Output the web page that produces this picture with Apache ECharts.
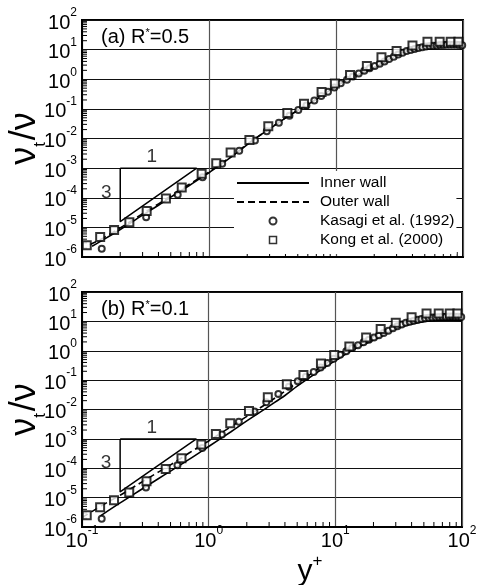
<!DOCTYPE html>
<html>
<head>
<meta charset="utf-8">
<script src="https://cdn.jsdelivr.net/npm/echarts@6/dist/echarts.min.js"></script>
<style>
  html, body { margin: 0; padding: 0; background: #fff; }
  #chart { width: 477px; height: 585px; }
</style>
</head>
<body>
<div id="chart"></div>
<script>
// Eddy viscosity profiles nu_t/nu versus y+ for two radius ratios (log-log)

// Axis ranges and decade tick exponents
const X_MIN = 0.1, X_MAX = 100;
const Y_MIN = 1e-6, Y_MAX = 1e2;
const xTickExponents = [-1, 0, 1, 2];
const yTickExponents = [-6, -5, -4, -3, -2, -1, 0, 1, 2];

// DNS of channel flow, Kasagi et al. (1992)
const kasagiYPlus = [0.143, 0.32, 0.567, 0.89, 1.27, 1.73, 2.3, 2.85, 3.55, 4.3, 5.05, 5.85,
  6.75, 7.65, 8.65, 9.7, 10.9, 12.2, 13.6, 15.1, 16.7, 18.4, 20.2, 22.1, 24.1, 26.2, 28.5,
  30.9, 33.4, 36.0, 38.7, 41.6, 44.6, 47.8, 51.1, 54.6, 58.2, 62.0, 66.0, 70.1, 74.4, 78.9,
  83.6, 88.4, 93.4, 98.6];
const kasagiNut = [1.9e-6, 2.2e-5, 1.27e-4, 4.9e-4, 1.4e-3, 3.85e-3, 8.6e-3, 1.75e-2, 3.4e-2,
  5.9e-2, 9.1e-2, 0.13, 0.19, 0.27, 0.38, 0.53, 0.73, 0.97, 1.23, 1.55, 1.95, 2.35, 2.8, 3.35,
  4.0, 4.8, 5.8, 6.8, 7.9, 8.9, 9.8, 10.6, 11.4, 12.1, 12.7, 13.2, 13.6, 13.9, 14.2, 14.4,
  14.5, 14.6, 14.6, 14.5, 14.3, 14.1];

// DNS of pipe flow, Kong et al. (2000)
const kongYPlus = [0.109, 0.139, 0.179, 0.236, 0.323, 0.458, 0.61, 0.875, 1.14, 1.48, 2.08,
  2.93, 4.14, 5.6, 7.7, 9.8, 12.9, 17.5, 22.8, 30.0, 40.0, 52.5, 65.5, 80.0, 92.0];
const kongNut = [2.5e-6, 4.7e-6, 8.1e-6, 1.5e-5, 3.6e-5, 9.4e-5, 2.2e-4, 6.4e-4, 1.46e-3,
  3.4e-3, 8.9e-3, 2.6e-2, 7.2e-2, 0.15, 0.37, 0.72, 1.4, 2.8, 5.5, 9.0, 13.8, 18.5, 18.5,
  18.5, 18.5];

// Model predictions, R* = 0.5
const aInnerYPlus = [0.12, 0.15, 0.2, 0.3, 0.4, 0.5, 0.7, 0.89, 1.0, 1.26, 1.5, 1.73, 2.0, 2.5,
  3.0, 3.5, 4.0, 5.0, 6.0, 7.0, 8.5, 10, 12, 15, 20, 25, 30, 40, 50, 60, 70, 85, 100];
const aInnerNut = [2.3e-6, 4.0e-6, 8.5e-6, 2.6e-5, 5.6e-5, 1.05e-4, 2.6e-4, 5.1e-4, 7.0e-4,
  1.4e-3, 2.4e-3, 3.8e-3, 6.2e-3, 1.25e-2, 2.1e-2, 3.3e-2, 4.9e-2, 8.8e-2, 0.14, 0.21, 0.37,
  0.58, 0.93, 1.45, 2.5, 4.2, 6.5, 10.2, 12.5, 13.8, 14.4, 14.6, 14.0];
const aOuterYPlus = [0.115, 0.15, 0.2, 0.3, 0.4, 0.5, 0.7, 1.0, 1.5, 2.0, 3.0, 4.0, 5.0, 7.0,
  10, 15, 20, 30, 40, 50, 70, 100];
const aOuterNut = [2.6e-6, 4.6e-6, 9.6e-6, 2.9e-5, 6.2e-5, 1.16e-4, 2.85e-4, 7.4e-4, 2.5e-3,
  6.4e-3, 2.15e-2, 5.0e-2, 9.0e-2, 0.215, 0.59, 1.45, 2.5, 6.5, 10.2, 12.5, 14.4, 14.0];

// Model predictions, R* = 0.1
const bInnerYPlus = [0.14, 0.2, 0.3, 0.4, 0.5, 0.7, 1.0, 1.5, 2.0, 2.6, 3.0, 4.0, 5.0, 7.0,
  10, 15, 20, 30, 40, 50, 60, 70, 85, 100];
const bInnerNut = [2.4e-6, 6.6e-6, 2.0e-5, 4.4e-5, 8.0e-5, 2.0e-4, 5.5e-4, 1.75e-3, 4.1e-3,
  8.6e-3, 1.3e-2, 3.0e-2, 6.2e-2, 0.17, 0.46, 1.3, 2.3, 5.6, 8.2, 9.8, 10.6, 11.0, 11.0, 10.5];
const bOuterYPlus = [0.1, 0.15, 0.2, 0.3, 0.4, 0.5, 0.7, 1.0, 1.5, 2.0, 3.0, 4.0, 5.0, 7.0,
  10, 15, 20, 30, 40, 50, 60, 70, 85, 100];
const bOuterNut = [2.1e-6, 6.0e-6, 1.2e-5, 3.5e-5, 7.4e-5, 1.3e-4, 3.3e-4, 8.5e-4, 2.6e-3,
  5.8e-3, 1.8e-2, 4.2e-2, 8.0e-2, 0.21, 0.6, 1.6, 3.0, 7.5, 11.0, 13.2, 14.3, 14.8, 14.8, 14.3];

// Slope-3 reference triangle and its side labels
const triangleYPlus = [0.2, 0.8, 0.2, 0.2];
const triangleNut = [1e-3, 1e-3, 1.5625e-5, 1e-3];
const slopeLabelText = ['1', '3'];
const slopeLabelYPlus = [0.355, 0.155];
const slopeLabelNut = [2.4e-3, 1.5e-4];

const panelTitles = ['(a) R{s|*}=0.5', '(b) R{s|*}=0.1'];
const legendNames = ['Inner wall', 'Outer wall', 'Kasagi et al. (1992)', 'Kong et al. (2000)'];

const FONT = 'Liberation Sans';
const zip = (xs, ys) => xs.map((x, i) => [x, ys[i]]);
const sup = { fontSize: 12, lineHeight: 12, verticalAlign: 'top', fontFamily: FONT, color: '#000' };
const base = { fontSize: 20, lineHeight: 26, verticalAlign: 'bottom', fontFamily: FONT, color: '#000' };

function powerLabel(v, exps) {
  const e = Math.round(Math.log10(v));
  return exps.indexOf(e) >= 0 ? '{b|10}{e|' + e + '}' : '';
}

// Minor tick positions (2..9 within each decade) drawn inside the frame
function minorTicks(lo, hi) {
  const out = [];
  for (let d = Math.round(Math.log10(lo)); d < Math.round(Math.log10(hi)); d++) {
    for (let k = 2; k <= 9; k++) out.push(k * Math.pow(10, d));
  }
  return out;
}
const tickItems = minorTicks(X_MIN, X_MAX).map(v => [v, Y_MIN, 0])
  .concat(minorTicks(Y_MIN, Y_MAX).map(v => [X_MIN, v, 1]));

function renderTick(params, api) {
  const p = api.coord([api.value(0), api.value(1)]);
  const horiz = api.value(2) === 1;
  return {
    type: 'line',
    shape: horiz ? { x1: p[0], y1: p[1], x2: p[0] + 5, y2: p[1] }
                 : { x1: p[0], y1: p[1], x2: p[0], y2: p[1] - 5 },
    style: { stroke: '#000', lineWidth: 1 }
  };
}

const grids = [
  { left: 82, top: 20, width: 381, height: 237 },
  { left: 82, top: 292, width: 380, height: 235 }
];

const xAxes = [], yAxes = [], series = [], titles = [];
grids.forEach((g, i) => {
  g.show = true;
  g.borderColor = '#000';
  g.borderWidth = 2;
  g.backgroundColor = '#fff';
  g.containLabel = false;
  g.outerBoundsMode = 'none';
  xAxes.push({
    type: 'log', logBase: 10, gridIndex: i, min: X_MIN, max: X_MAX,
    axisLine: { show: true, lineStyle: { color: '#000', width: 2 } },
    axisTick: { show: false },
    splitLine: { show: true, lineStyle: { color: '#555', width: 1.2 } },
    axisLabel: {
      show: i === 1, margin: -2,
      formatter: v => powerLabel(v, xTickExponents),
      rich: { b: base, e: sup }
    },
    name: i === 1 ? '{y|y}{p|+}' : '',
    nameLocation: 'middle', nameGap: 26, nameMoveOverlap: false,
    nameTextStyle: {
      padding: [0, 0, 0, 76],
      rich: {
        y: { fontSize: 30, lineHeight: 34, verticalAlign: 'bottom', fontFamily: FONT, color: '#000' },
        p: { fontSize: 17, lineHeight: 17, verticalAlign: 'top', fontFamily: FONT, color: '#000' }
      }
    }
  });
  yAxes.push({
    type: 'log', logBase: 10, gridIndex: i, min: Y_MIN, max: Y_MAX,
    axisLine: { show: true, lineStyle: { color: '#000', width: 2 } },
    axisTick: { show: false },
    splitLine: { show: true, lineStyle: { color: '#111', width: 1 } },
    axisLabel: {
      margin: 5,
      formatter: v => powerLabel(v, yTickExponents),
      rich: { b: base, e: sup }
    },
    name: '{n|ν}{t|t}{n|/ν}',
    nameLocation: 'middle', nameRotate: 90, nameGap: 35, nameMoveOverlap: false,
    nameTextStyle: {
      rich: {
        n: { fontSize: 36, lineHeight: 40, verticalAlign: 'top', fontFamily: FONT, color: '#000' },
        t: { fontSize: 17, lineHeight: 17, padding: [25, 2, 0, 0], verticalAlign: 'top', fontFamily: FONT, color: '#000' }
      }
    }
  });
  titles.push({
    text: panelTitles[i], left: 96, top: g.top + 2,
    textStyle: {
      fontSize: 20, fontWeight: 'normal', fontFamily: FONT, color: '#000',
      rich: { s: { fontSize: 11, verticalAlign: 'top', lineHeight: 11, fontFamily: FONT, color: '#000' } }
    }
  });

  const inner = i === 0 ? zip(aInnerYPlus, aInnerNut) : zip(bInnerYPlus, bInnerNut);
  const outer = i === 0 ? zip(aOuterYPlus, aOuterNut) : zip(bOuterYPlus, bOuterNut);
  const marker = { color: '#000', borderColor: '#000', borderWidth: 1.3 };

  series.push(
    { type: 'custom', name: 'ticks' + i, xAxisIndex: i, yAxisIndex: i, data: tickItems,
      renderItem: renderTick, silent: true, z: 3 },
    { type: 'line', name: 'slope' + i, xAxisIndex: i, yAxisIndex: i,
      data: zip(triangleYPlus, triangleNut), symbol: 'none', silent: true, color: '#000',
      lineStyle: { color: '#000', width: 1.5 }, z: 3 },
    { type: 'scatter', name: 'slopeText' + i, xAxisIndex: i, yAxisIndex: i,
      data: zip(slopeLabelYPlus, slopeLabelNut).map((p, k) => ({ value: p, text: slopeLabelText[k] })),
      symbolSize: 0, silent: true,
      label: { show: true, position: 'inside', formatter: p => p.data.text,
        fontSize: 19, fontFamily: FONT, color: '#000' } },
    { type: 'line', name: legendNames[0], xAxisIndex: i, yAxisIndex: i, data: inner,
      symbol: 'none', smooth: 0.35, color: '#000', itemStyle: { color: '#000', opacity: 0 },
      lineStyle: { color: '#000', width: 1.6 }, z: 4 },
    { type: 'line', name: legendNames[1], xAxisIndex: i, yAxisIndex: i, data: outer,
      symbol: 'none', smooth: 0.35, color: '#000', itemStyle: { color: '#000', opacity: 0 },
      lineStyle: { color: '#000', width: 1.6, type: [7, 4] }, z: 4 },
    { type: 'scatter', name: legendNames[2], xAxisIndex: i, yAxisIndex: i,
      data: zip(kasagiYPlus, kasagiNut), symbol: 'emptyCircle', symbolSize: 6,
      color: '#000', itemStyle: marker, z: 5 },
    { type: 'scatter', name: legendNames[3], xAxisIndex: i, yAxisIndex: i,
      data: zip(kongYPlus, kongNut), symbol: 'emptyRect', symbolSize: 8,
      color: '#000', itemStyle: marker, z: 5 }
  );
});

const chart = echarts.init(document.getElementById('chart'), null, { renderer: 'canvas' });
chart.setOption({
  animation: false,
  backgroundColor: '#fff',
  textStyle: { fontFamily: FONT },
  title: titles,
  grid: grids,
  xAxis: xAxes,
  yAxis: yAxes,
  legend: {
    data: [
      legendNames[0],
      legendNames[1],
      legendNames[2],
      { name: legendNames[3], icon: 'path://M0,0H10V10H0Z',
        itemStyle: { color: '#fff', borderColor: '#000', borderWidth: 1.5 } }
    ],
    orient: 'vertical', left: 234, top: 171,
    itemWidth: 72, itemHeight: 7, itemGap: 3, itemTextGap: 12,
    padding: [4, 2, 6, 2], backgroundColor: '#fff',
    selectedMode: false,
    textStyle: { fontSize: 15.5, lineHeight: 16, color: '#000', fontFamily: FONT,
      padding: [0, 0, 0, 6] }
  },
  series: series
});
</script>
</body>
</html>
